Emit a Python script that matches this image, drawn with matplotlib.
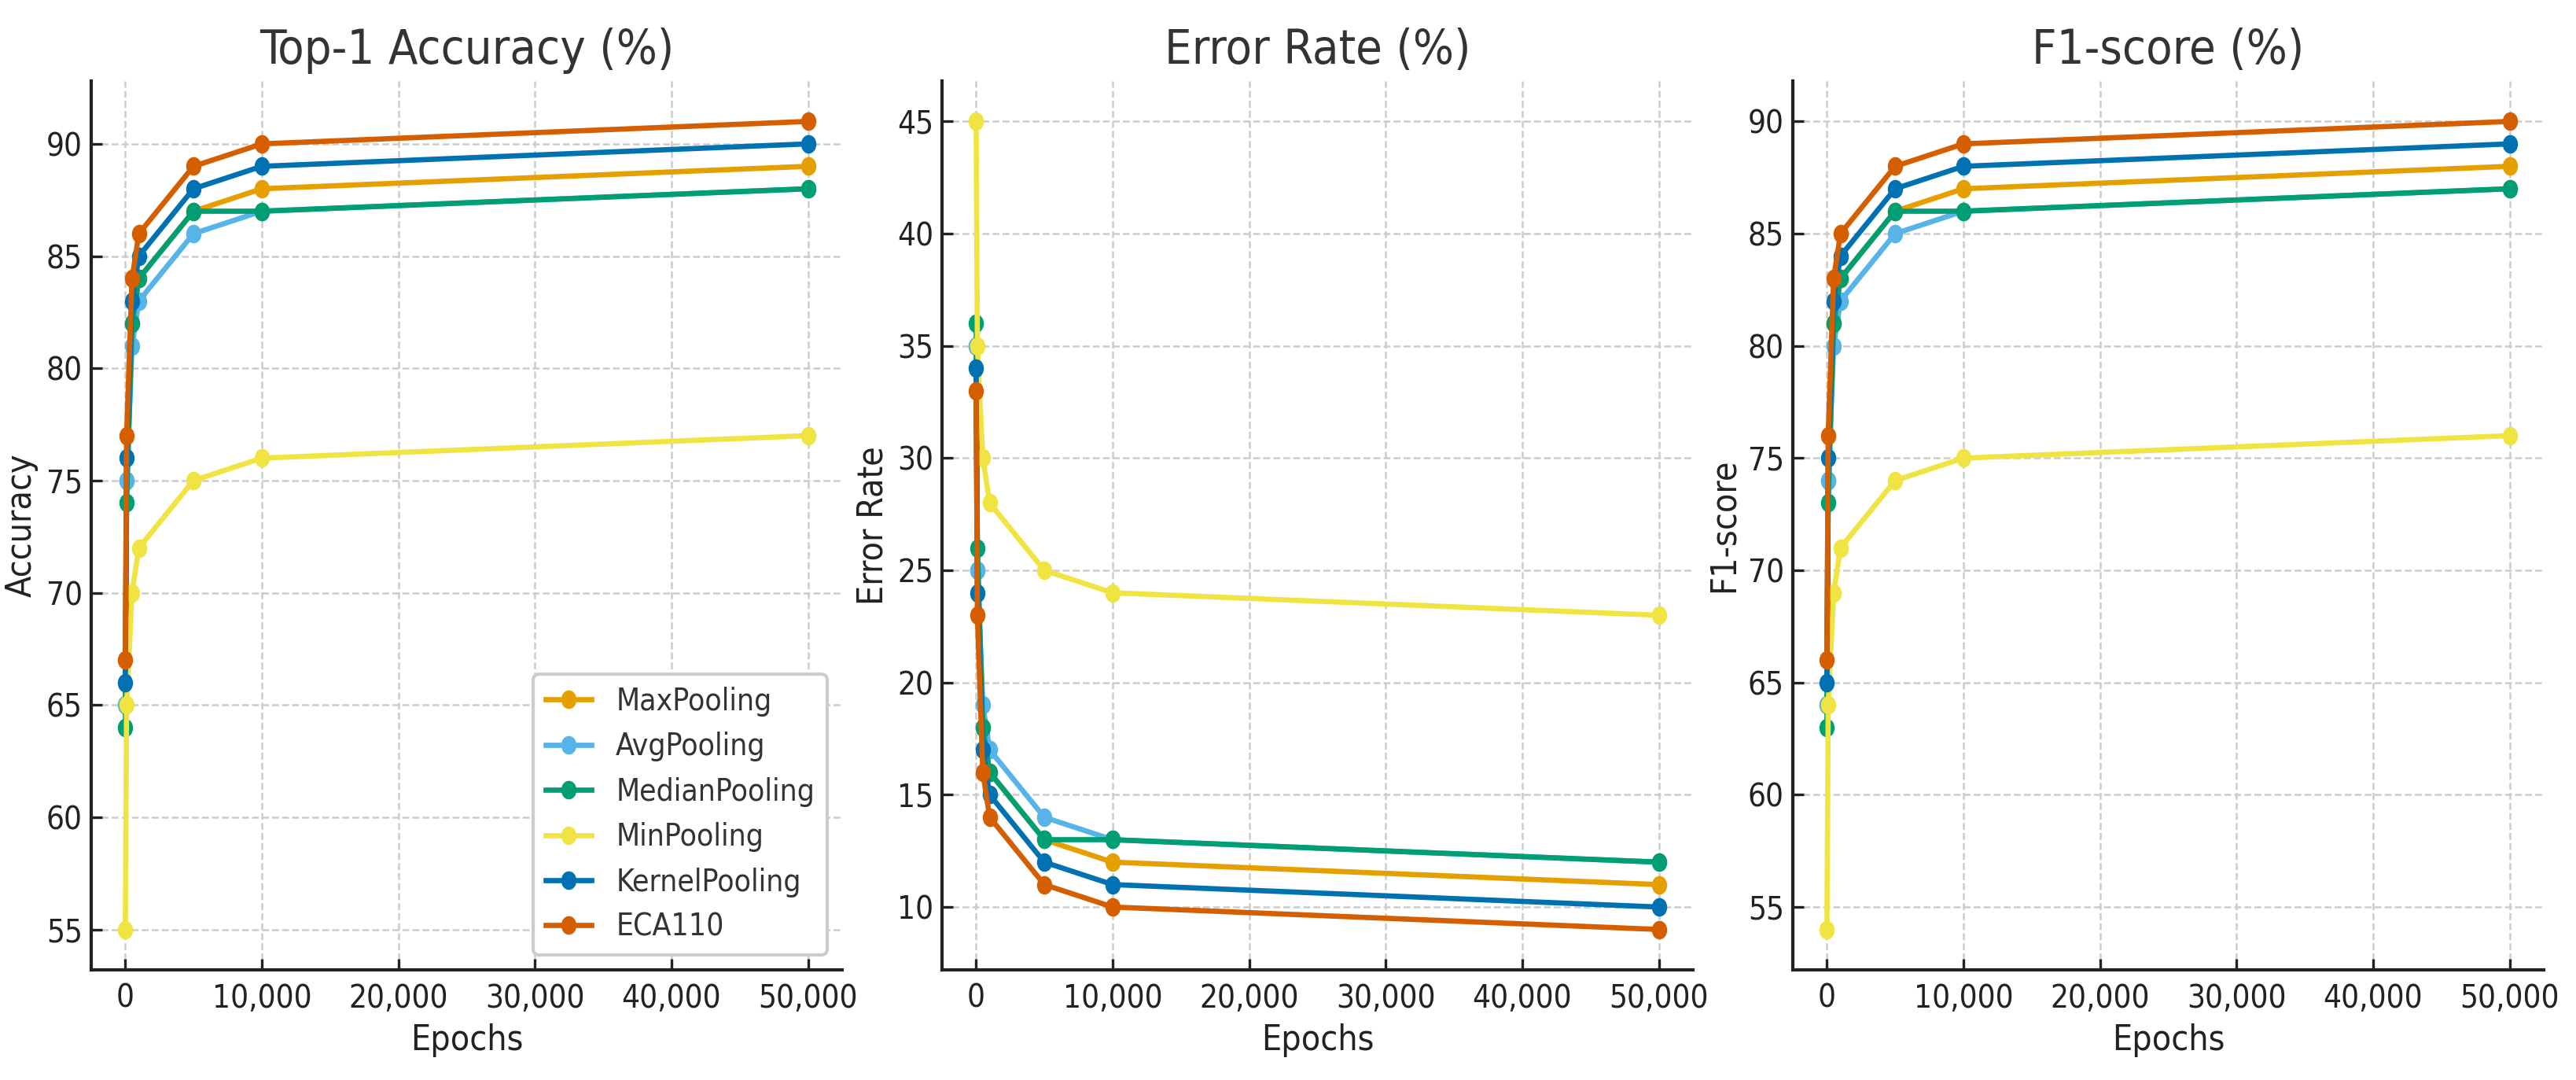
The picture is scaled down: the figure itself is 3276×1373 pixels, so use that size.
import matplotlib
matplotlib.use('Agg')
import matplotlib.pyplot as plt
from matplotlib.path import Path
from matplotlib.transforms import Affine2D
from matplotlib.markers import MarkerStyle
from matplotlib.ticker import MultipleLocator, FuncFormatter

# Data
epochs = [10, 100, 500, 1000, 5000, 10000, 50000]
methods = ['MaxPooling', 'AvgPooling', 'MedianPooling', 'MinPooling', 'KernelPooling', 'ECA110']
colors = ['#E69F00', '#56B4E9', '#009E73', '#F0E442', '#0072B2', '#D55E00']

max_acc = [65, 75, 82, 84, 87, 88, 89]
avg_acc = [65, 75, 81, 83, 86, 87, 88]
med_acc = [64, 74, 82, 84, 87, 87, 88]
min_acc = [55, 65, 70, 72, 75, 76, 77]
ker_acc = [66, 76, 83, 85, 88, 89, 90]
eca_acc = [67, 77, 84, 86, 89, 90, 91]

max_err = [35, 25, 18, 16, 13, 12, 11]
avg_err = [35, 25, 19, 17, 14, 13, 12]
med_err = [36, 26, 18, 16, 13, 13, 12]
min_err = [45, 35, 30, 28, 25, 24, 23]
ker_err = [34, 24, 17, 15, 12, 11, 10]
eca_err = [33, 23, 16, 14, 11, 10, 9]

max_f1 = [64, 74, 81, 83, 86, 87, 88]
avg_f1 = [64, 74, 80, 82, 85, 86, 87]
med_f1 = [63, 73, 81, 83, 86, 86, 87]
min_f1 = [54, 64, 69, 71, 74, 75, 76]
ker_f1 = [65, 75, 82, 84, 87, 88, 89]
eca_f1 = [66, 76, 83, 85, 88, 89, 90]

panels = [
    ('Top-1 Accuracy (%)', 'Accuracy', [max_acc, avg_acc, med_acc, min_acc, ker_acc, eca_acc]),
    ('Error Rate (%)', 'Error Rate', [max_err, avg_err, med_err, min_err, ker_err, eca_err]),
    ('F1-score (%)', 'F1-score', [max_f1, avg_f1, med_f1, min_f1, ker_f1, eca_f1]),
]

# condensed fonts if present, DejaVu Sans otherwise
plt.rcParams['font.family'] = ['DejaVu Sans Condensed', 'Liberation Sans Narrow', 'DejaVu Sans']
plt.rcParams['font.stretch'] = 'condensed'

# slightly narrow round markers, like the reference
ellipse = MarkerStyle(Path.unit_circle().transformed(Affine2D().scale(0.8, 1.0)))

fig = plt.figure(figsize=(16.38, 6.865), dpi=200)
lefts = [116, 1198, 2280]
W, H = 3276, 1373

for i, (title, ylabel, series) in enumerate(panels):
    ax = fig.add_axes([lefts[i] / W, 1 - 1233 / H, 955 / W, (1233 - 103) / H])
    for name, col, vals in zip(methods, colors, series):
        ax.plot(epochs, vals, color=col, lw=2.4, marker=ellipse, markersize=7.5, label=name)

    ax.set_title(title, fontsize=22, color='#333333', pad=8)
    ax.set_xlabel('Epochs', fontsize=16, color='#222222', labelpad=4)
    ax.set_ylabel(ylabel, fontsize=16, color='#222222')
    ax.yaxis.set_label_coords(-0.07, 0.5)

    ax.xaxis.set_major_locator(MultipleLocator(10000))
    ax.xaxis.set_major_formatter(FuncFormatter(lambda v, p: f'{int(v):,}'))
    ax.yaxis.set_major_locator(MultipleLocator(5))
    ax.tick_params(axis='both', direction='in', length=5, width=1.2, labelsize=14.5,
                   colors='#222222')
    ax.tick_params(axis='x', pad=6)
    ax.tick_params(axis='y', pad=4)

    ax.grid(True, color='#cccccc', linestyle=(0, (3.5, 1.6)), linewidth=0.9)
    ax.set_axisbelow(True)
    for s in ['top', 'right']:
        ax.spines[s].set_visible(False)
    for s in ['left', 'bottom']:
        ax.spines[s].set_linewidth(1.5)
        ax.spines[s].set_color('#222222')

    if i == 0:
        leg = ax.legend(loc='lower right', fontsize=14, handlelength=1.5, labelspacing=0.5,
                        frameon=True, fancybox=True, edgecolor='#cccccc', framealpha=1)
        leg.get_frame().set_linewidth(1.5)
        for t in leg.get_texts():
            t.set_color('#333333')

fig.savefig('out.png', dpi=200)
